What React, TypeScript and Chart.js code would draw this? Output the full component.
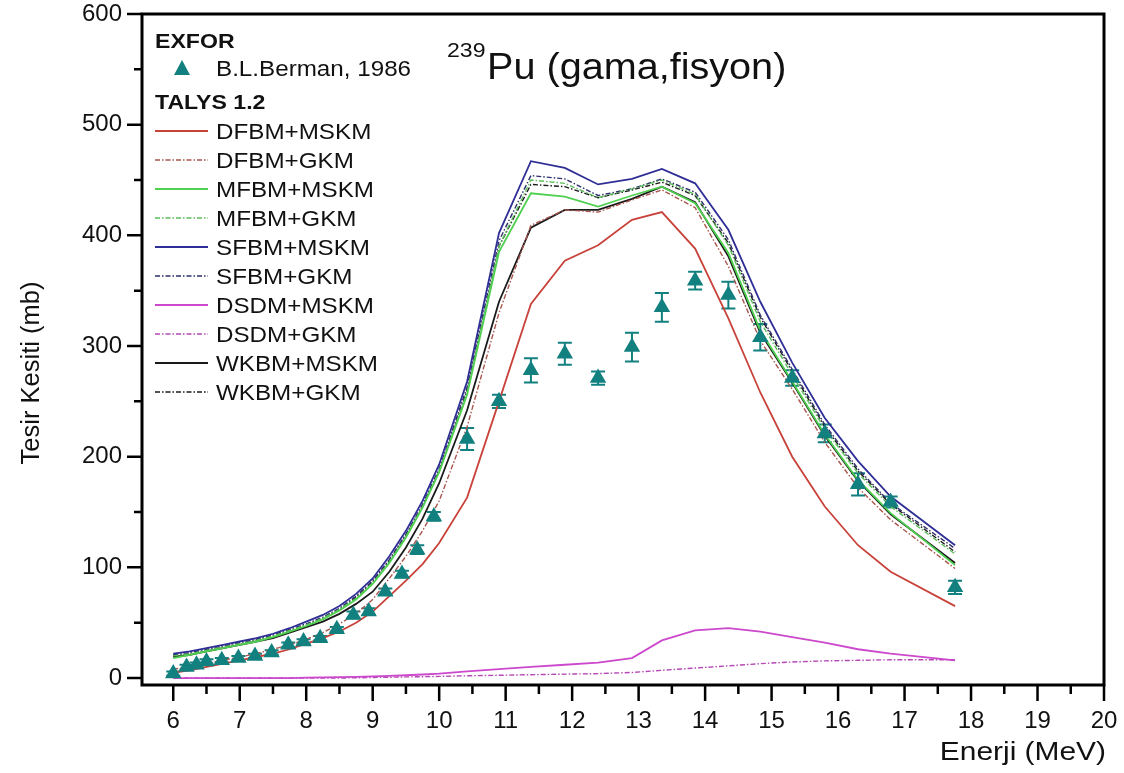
import React, { useEffect, useRef } from 'react';
import { Chart, registerables } from 'chart.js';

Chart.register(...registerables);

// ---- data ----
const energy = [6.0, 6.25, 6.5, 6.75, 7.0, 7.25, 7.5, 7.75, 8.0, 8.25, 8.5, 8.75, 9.0, 9.25, 9.5, 9.75, 10.0,
  10.42, 10.9, 11.38, 11.89, 12.39, 12.9, 13.35, 13.85, 14.35, 14.83, 15.31, 15.8, 16.3, 16.79, 17.76];

const dfbmMskm = [5, 7, 10, 13, 16, 19, 22, 26, 31, 36, 42, 50, 60, 74, 88, 103, 122, 163, 250, 338, 377, 391, 414, 421, 388, 325, 258, 200, 155, 120, 96, 65];
const dfbmGkm = [8, 10, 13, 16, 19, 22, 26, 30, 35, 41, 49, 58, 71, 90, 110, 133, 160, 227, 330, 409, 423, 421, 432, 441, 425, 372, 305, 261, 213, 172, 143, 99];
const mfbmMskm = [18, 21, 24, 27, 30, 33, 37, 42, 47, 53, 61, 71, 85, 104, 127, 154, 186, 256, 385, 438, 435, 426, 436, 444, 429, 384, 314, 268, 220, 179, 149, 102];
const mfbmGkm = [20, 22, 25, 28, 31, 34, 38, 43, 48, 54, 62, 72, 86, 105, 128, 155, 187, 258, 390, 450, 447, 434, 442, 450, 437, 391, 322, 274, 225, 185, 155, 112];
const sfbmMskm = [22, 24, 27, 30, 33, 36, 40, 45, 51, 57, 65, 76, 90, 110, 133, 160, 193, 268, 402, 467, 461, 446, 451, 460, 447, 405, 340, 285, 235, 196, 164, 120];
const sfbmGkm = [21, 23, 26, 29, 32, 35, 39, 44, 49, 55, 63, 74, 88, 107, 130, 157, 189, 263, 395, 454, 451, 436, 442, 451, 439, 396, 328, 279, 229, 189, 158, 117];
const dsdmMskm = [0, 0, 0, 0, 0, 0, 0, 0, 0.3, 0.5, 0.8, 1.1, 1.5, 2, 2.5, 3.2, 4, 6, 8, 10, 12, 14, 18, 34, 43, 45, 42, 37, 32, 26, 22, 16];
const dsdmGkm = [0, 0, 0, 0, 0, 0, 0, 0, 0, 0, 0, 0.2, 0.5, 0.7, 1, 1.2, 1.5, 2, 2.5, 3, 3.5, 4, 5, 7, 9, 11, 13, 14.5, 15.5, 16, 16.5, 16.5];
const wkbmMskm = [19, 21, 24, 27, 30, 33, 36, 41, 46, 51, 58, 67, 78, 96, 118, 144, 176, 242, 340, 407, 423, 423, 433, 444, 430, 381, 312, 267, 219, 178, 148, 104];
const wkbmGkm = [20, 22, 25, 28, 31, 34, 38, 43, 48, 54, 62, 73, 87, 106, 129, 155, 187, 260, 390, 446, 444, 434, 441, 448, 436, 393, 326, 277, 227, 187, 157, 114];

const bermanE = [6.0, 6.2, 6.35, 6.5, 6.73, 6.98, 7.23, 7.48, 7.73, 7.96, 8.21, 8.46, 8.71, 8.94, 9.19, 9.44, 9.67, 9.92,
  10.42, 10.9, 11.38, 11.89, 12.39, 12.9, 13.35, 13.85, 14.35, 14.83, 15.31, 15.8, 16.3, 16.79, 17.76];
const bermanXS = [4, 10, 12, 15, 16, 18, 20, 23, 30, 33, 36, 44, 57, 60, 78, 94, 116, 146,
  216, 250, 278, 293, 271, 299, 335, 359, 346, 308, 271, 221, 175, 159, 82];
const bermanErr = [2, 2, 2, 2, 2, 2, 2, 2, 2, 2, 2, 2, 3, 3, 3, 3, 4, 4,
  10, 6, 11, 10, 6, 13, 13, 8, 12, 12, 7, 8, 10, 5, 6];

const xTickValues = [6, 7, 8, 9, 10, 11, 12, 13, 14, 15, 16, 17, 18, 19, 20];
const yTickValues = [0, 100, 200, 300, 400, 500, 600];

const seriesNames = ['DFBM+MSKM', 'DFBM+GKM', 'MFBM+MSKM', 'MFBM+GKM', 'SFBM+MSKM', 'SFBM+GKM', 'DSDM+MSKM', 'DSDM+GKM', 'WKBM+MSKM', 'WKBM+GKM'];
const seriesValues = [dfbmMskm, dfbmGkm, mfbmMskm, mfbmGkm, sfbmMskm, sfbmGkm, dsdmMskm, dsdmGkm, wkbmMskm, wkbmGkm];
const seriesColors = ['#c8423a', '#a9564e', '#4fd04f', '#5cbf5c', '#2e2e96', '#2f2f6c', '#cc48cc', '#b548b5', '#1a1a1a', '#1a1a1a'];
const seriesDashed = [false, true, false, true, false, true, false, true, false, true];

const TEAL = '#138080';
const FONT = '"Liberation Sans", Arial, Helvetica, sans-serif';
const DASH = [5, 2, 1.5, 2];
const SOLID_W = 1.8;
const DASH_W = 1.4;

function drawText(ctx: CanvasRenderingContext2D, text: string, x: number, y: number, font: string, sx = 1, align: CanvasTextAlign = 'left', baseline: CanvasTextBaseline = 'alphabetic') {
  ctx.save();
  ctx.translate(x, y);
  ctx.scale(sx, 1);
  ctx.font = font;
  ctx.fillStyle = '#111';
  ctx.textAlign = align;
  ctx.textBaseline = baseline;
  ctx.fillText(text, 0, 0);
  ctx.restore();
}

const framePlugin = {
  id: 'frameTicks',
  beforeDatasetsDraw(chart: any) {
    const ctx = chart.ctx as CanvasRenderingContext2D;
    const xs = chart.scales.x, ys = chart.scales.y;
    ctx.save();
    ctx.strokeStyle = TEAL;
    ctx.lineWidth = 2;
    bermanE.forEach((e, i) => {
      const px = xs.getPixelForValue(e);
      const top = ys.getPixelForValue(bermanXS[i] + bermanErr[i]);
      const bot = ys.getPixelForValue(bermanXS[i] - bermanErr[i]);
      ctx.beginPath();
      ctx.moveTo(px, top); ctx.lineTo(px, bot);
      ctx.moveTo(px - 7, top); ctx.lineTo(px + 7, top);
      ctx.moveTo(px - 7, bot); ctx.lineTo(px + 7, bot);
      ctx.stroke();
    });
    ctx.restore();
  },
  afterDatasetsDraw(chart: any) {
    const ctx = chart.ctx as CanvasRenderingContext2D;
    const { left, right, top, bottom } = chart.chartArea;
    const xs = chart.scales.x, ys = chart.scales.y;
    ctx.save();
    ctx.strokeStyle = '#000';
    ctx.lineWidth = 3;
    ctx.strokeRect(left, top, right - left, bottom - top);
    ctx.lineWidth = 2.5;
    ctx.beginPath();
    for (let v = 0; v <= 600; v += 50) {
      const py = ys.getPixelForValue(v);
      const len = v % 100 === 0 ? 15 : 8;
      ctx.moveTo(left, py); ctx.lineTo(left - len, py);
    }
    for (let v = 6; v <= 20.001; v += 0.5) {
      const px = xs.getPixelForValue(v);
      const len = Math.abs(v - Math.round(v)) < 1e-6 ? 16 : 9;
      ctx.moveTo(px, bottom); ctx.lineTo(px, bottom + len);
    }
    ctx.stroke();
    ctx.restore();
  },
  afterDraw(chart: any) {
    const ctx = chart.ctx as CanvasRenderingContext2D;
    drawText(ctx, 'Enerji (MeV)', 1106, 760, `26px ${FONT}`, 1.15, 'right');
    ctx.save();
    ctx.translate(39, 373);
    ctx.rotate(-Math.PI / 2);
    drawText(ctx, 'Tesir Kesiti (mb)', 0, 0, `25px ${FONT}`, 1.02, 'center');
    ctx.restore();
    drawText(ctx, '239', 447, 57, `21px ${FONT}`, 1.1, 'left');
    drawText(ctx, 'Pu (gama,fisyon)', 487, 79, `36px ${FONT}`, 1.1, 'left');
    drawText(ctx, 'EXFOR', 155, 48, `bold 21px ${FONT}`, 1.1, 'left');
    ctx.save();
    ctx.fillStyle = TEAL;
    ctx.beginPath();
    ctx.moveTo(182, 60); ctx.lineTo(190, 75); ctx.lineTo(174, 75); ctx.closePath();
    ctx.fill();
    ctx.restore();
    drawText(ctx, 'B.L.Berman, 1986', 216, 76, `22px ${FONT}`, 1.1, 'left');
    drawText(ctx, 'TALYS 1.2', 155, 109, `bold 21px ${FONT}`, 1.1, 'left');
    seriesNames.forEach((name, i) => {
      const y = 131 + i * 29;
      ctx.save();
      ctx.strokeStyle = seriesColors[i];
      ctx.lineWidth = seriesDashed[i] ? DASH_W : SOLID_W;
      ctx.setLineDash(seriesDashed[i] ? DASH : []);
      ctx.beginPath();
      ctx.moveTo(155, y); ctx.lineTo(208, y);
      ctx.stroke();
      ctx.restore();
      drawText(ctx, name, 216, y + 8, `22px ${FONT}`, 1.1, 'left');
    });
  },
};

export default function App() {
  const ref = useRef<HTMLCanvasElement>(null);
  useEffect(() => {
    const canvas = ref.current;
    if (!canvas) return;
    const lineSets = seriesNames.map((name, i) => ({
      label: name,
      data: energy.map((e, j) => ({ x: e, y: seriesValues[i][j] })),
      borderColor: seriesColors[i],
      backgroundColor: seriesColors[i],
      borderWidth: seriesDashed[i] ? DASH_W : SOLID_W,
      borderDash: seriesDashed[i] ? DASH : [],
      pointRadius: 0,
      tension: 0,
      fill: false,
      order: 2,
    }));
    const chart = new Chart(canvas, {
      type: 'line',
      data: {
        datasets: [
          {
            label: 'B.L.Berman, 1986',
            data: bermanE.map((e, i) => ({ x: e, y: bermanXS[i] })),
            showLine: false,
            pointStyle: 'triangle',
            pointRadius: 9.5,
            pointBackgroundColor: TEAL,
            pointBorderColor: TEAL,
            pointBorderWidth: 0,
            order: 0,
          } as any,
          ...lineSets,
        ],
      },
      options: {
        animation: false,
        responsive: false,
        maintainAspectRatio: false,
        layout: { padding: { top: 14, right: 20, left: 0, bottom: 0 } },
        plugins: { legend: { display: false }, tooltip: { enabled: false }, title: { display: false } },
        scales: {
          x: {
            type: 'linear',
            min: 5.53,
            max: 20,
            grid: { display: false, drawTicks: false },
            border: { display: false },
            afterBuildTicks: (s: any) => { s.ticks = xTickValues.map((v) => ({ value: v })); },
            afterFit: (s: any) => { s.height = 88; s.paddingLeft = 0; s.paddingRight = 0; },
            ticks: {
              font: { family: FONT, size: 24 },
              color: '#111',
              padding: 22,
              maxRotation: 0,
              autoSkip: false,
              callback: (v: any) => String(v),
            },
          },
          y: {
            type: 'linear',
            min: -6.3,
            max: 600,
            grid: { display: false, drawTicks: false },
            border: { display: false },
            afterBuildTicks: (s: any) => { s.ticks = yTickValues.map((v) => ({ value: v })); },
            afterFit: (s: any) => { s.width = 142; s.paddingTop = 0; s.paddingBottom = 0; },
            ticks: {
              font: { family: FONT, size: 24 },
              color: '#111',
              padding: 20,
              autoSkip: false,
              callback: (v: any) => String(v),
            },
          },
        },
      },
      plugins: [framePlugin],
    });
    return () => chart.destroy();
  }, []);
  return (
    <div style={{ position: 'absolute', left: 0, top: 0, width: 1124, height: 773, background: '#fff' }}>
      <canvas ref={ref} width={1124} height={773} style={{ display: 'block', width: 1124, height: 773 }} />
    </div>
  );
}
